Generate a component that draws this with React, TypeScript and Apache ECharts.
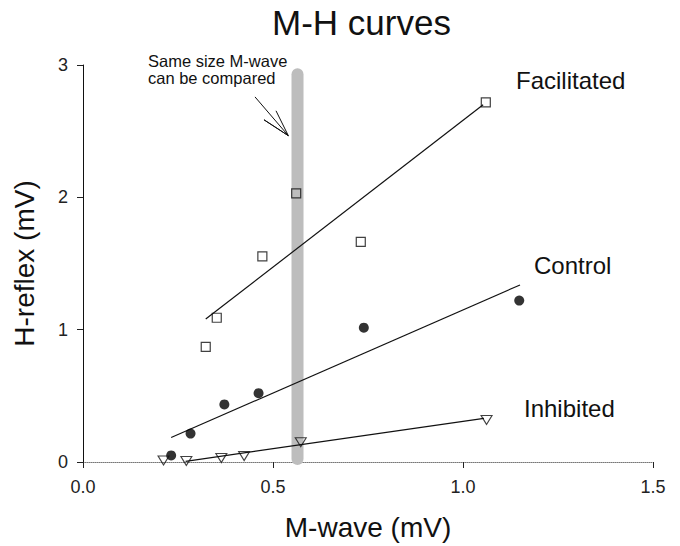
import React, { useEffect, useRef } from "react";
import * as echarts from "echarts";

const FONT = "'Liberation Sans', Arial, Helvetica, sans-serif";

// Data (M-wave mV, H-reflex mV)
const facilitatedPoints = [
  [0.323, 0.87], [0.352, 1.09], [0.472, 1.554], [0.561, 2.03], [0.731, 1.664], [1.06, 2.717],
];
const controlPoints = [
  [0.232, 0.05], [0.283, 0.215], [0.372, 0.435], [0.462, 0.52], [0.739, 1.015], [1.148, 1.22],
];
const inhibitedPoints = [
  [0.212, 0.012], [0.272, 0.008], [0.364, 0.03], [0.424, 0.045], [0.573, 0.15], [1.062, 0.318],
];
const facilitatedFit = [[0.323, 1.08], [1.053, 2.7]];
const controlFit = [[0.232, 0.185], [1.15, 1.338]];
const inhibitedFit = [[0.27, 0.005], [1.055, 0.33]];
const comparisonBand = [[0.5645, 0.023], [0.5645, 2.93]];
const arrowPath = [
  [0.4526, 2.759], [0.5403, 2.466], [0.4763, 2.586], [0.5403, 2.466], [0.5079, 2.654],
];
const xTickLabels = ["0.0", "0.5", "1.0", "1.5"];
const yTickLabels = ["0", "1", "2", "3"];
const seriesNames = ["Facilitated", "Control", "Inhibited"];
const noteLines = ["Same size M-wave", "can be compared"];

export default function App() {
  const ref = useRef<HTMLDivElement>(null);
  useEffect(() => {
    if (!ref.current) return;
    const chart = echarts.init(ref.current, undefined, { renderer: "svg" });
    const lineBase = {
      type: "line",
      showSymbol: false,
      symbol: "none",
      silent: true,
      animation: false,
    };
    chart.setOption({
      animation: false,
      backgroundColor: "#ffffff",
      textStyle: { fontFamily: FONT },
      title: {
        text: "M-H curves",
        left: 272,
        top: 5,
        padding: 0,
        textStyle: { fontFamily: FONT, fontSize: 35, fontWeight: "normal", color: "#111", lineHeight: 35 },
      },
      grid: { left: 83, right: 27, top: 65, bottom: 82, containLabel: false },
      xAxis: {
        type: "value",
        min: 0,
        max: 1.5,
        interval: 0.5,
        name: "M-wave (mV)",
        nameLocation: "middle",
        nameGap: 51,
        nameTextStyle: { fontFamily: FONT, fontSize: 28, color: "#111", lineHeight: 28 },
        axisLine: { show: true, onZero: false, lineStyle: { color: "#777", width: 1, type: "dotted" } },
        axisTick: { show: true, inside: false, length: 6, lineStyle: { color: "#222", width: 1 } },
        axisLabel: {
          margin: 16,
          fontFamily: FONT,
          fontSize: 18,
          color: "#222",
          formatter: (v: number) => xTickLabels[Math.round(v / 0.5)] ?? "",
        },
        splitLine: { show: false },
      },
      yAxis: {
        type: "value",
        min: 0,
        max: 3,
        interval: 1,
        name: "H-reflex (mV)",
        nameLocation: "middle",
        nameRotate: 90,
        nameGap: 45,
        nameTextStyle: { fontFamily: FONT, fontSize: 28, color: "#111", lineHeight: 28 },
        axisLine: { show: true, onZero: false, lineStyle: { color: "#111", width: 1 } },
        axisTick: { show: true, inside: false, length: 6, lineStyle: { color: "#222", width: 1 } },
        axisLabel: {
          margin: 15,
          fontFamily: FONT,
          fontSize: 18,
          color: "#222",
          formatter: (v: number) => yTickLabels[Math.round(v)] ?? "",
        },
        splitLine: { show: false },
      },
      series: [
        {
          ...lineBase,
          name: "band",
          z: 1,
          data: comparisonBand,
          lineStyle: { color: "#bdbdbd", width: 12, cap: "round" },
        },
        {
          ...lineBase,
          name: "arrow",
          z: 2,
          data: arrowPath,
          lineStyle: { color: "#111", width: 1 },
        },
        { ...lineBase, name: "facFit", z: 3, data: facilitatedFit, lineStyle: { color: "#111", width: 1.2 } },
        { ...lineBase, name: "ctlFit", z: 3, data: controlFit, lineStyle: { color: "#111", width: 1.2 } },
        { ...lineBase, name: "inhFit", z: 3, data: inhibitedFit, lineStyle: { color: "#111", width: 1.2 } },
        {
          type: "scatter",
          name: seriesNames[0],
          z: 4,
          silent: true,
          symbol: "rect",
          symbolSize: 9,
          data: facilitatedPoints,
          itemStyle: { color: "rgba(255,255,255,0)", borderColor: "#111", borderWidth: 1.2 },
        },
        {
          type: "scatter",
          name: seriesNames[1],
          z: 4,
          silent: true,
          symbol: "circle",
          symbolSize: 10,
          data: controlPoints,
          itemStyle: { color: "#000" },
        },
        {
          type: "scatter",
          name: seriesNames[2],
          z: 4,
          silent: true,
          symbol: "triangle",
          symbolRotate: 180,
          symbolSize: [11, 9],
          data: inhibitedPoints,
          itemStyle: { color: "rgba(255,255,255,0)", borderColor: "#111", borderWidth: 1.1 },
        },
      ],
      graphic: [
        {
          type: "text",
          x: 148,
          y: 52,
          silent: true,
          style: {
            text: noteLines.join("\n"),
            fontFamily: FONT,
            fontSize: 16.5,
            lineHeight: 17,
            fill: "#111",
            align: "left",
            verticalAlign: "top",
          },
        },
        {
          type: "text",
          x: 516,
          y: 80,
          silent: true,
          style: { text: seriesNames[0], fontFamily: FONT, fontSize: 24, fill: "#111", align: "left", verticalAlign: "middle" },
        },
        {
          type: "text",
          x: 534,
          y: 265,
          silent: true,
          style: { text: seriesNames[1], fontFamily: FONT, fontSize: 24, fill: "#111", align: "left", verticalAlign: "middle" },
        },
        {
          type: "text",
          x: 524,
          y: 408,
          silent: true,
          style: { text: seriesNames[2], fontFamily: FONT, fontSize: 24, fill: "#111", align: "left", verticalAlign: "middle" },
        },
      ],
    });
    return () => chart.dispose();
  }, []);
  return (
    <div
      ref={ref}
      style={{ position: "fixed", left: 0, top: 0, width: 680, height: 546, background: "#fff" }}
    />
  );
}
